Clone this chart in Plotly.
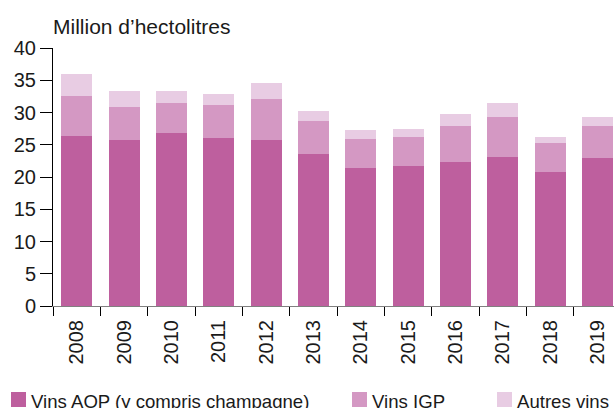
import plotly.graph_objects as go

years = ["2008", "2009", "2010", "2011", "2012", "2013",
         "2014", "2015", "2016", "2017", "2018", "2019"]

# stacked volumes, million hl
aop = [26.4, 25.8, 26.9, 26.1, 25.8, 23.6, 21.4, 21.7, 22.4, 23.1, 20.8, 23.0]
igp = [6.2, 5.1, 4.6, 5.0, 6.3, 5.1, 4.5, 4.5, 5.55, 6.2, 4.4, 4.95]
autres = [3.3, 2.5, 1.9, 1.7, 2.5, 1.6, 1.4, 1.3, 1.85, 2.1, 1.0, 1.35]

series_names = ["Vins AOP (y compris champagne)", "Vins IGP", "Autres vins"]
series_colors = ["#BE5F9E", "#D498C3", "#E8CCE3"]

W, H = 614, 408
ML, MR, MT, MB = 53, 0, 48, 102
PW, PH = W - ML - MR, H - MT - MB


def px_x(px):
    return (px - ML) / PW


def px_y(py):
    return (H - MB - py) / PH


fig = go.Figure()
for name, vals, col in zip(series_names, [aop, igp, autres], series_colors):
    fig.add_trace(go.Bar(x=years, y=vals, name=name, marker_color=col,
                         marker_line_width=0, showlegend=False))

# legend drawn by hand so it can sit half off the bottom edge
leg_sq = [11, 352, 497]
for name, col, x0 in zip(series_names, series_colors, leg_sq):
    fig.add_shape(type="rect", xref="paper", yref="paper",
                  x0=px_x(x0), x1=px_x(x0 + 15), y0=px_y(407), y1=px_y(392),
                  fillcolor=col, line_width=0)
    fig.add_annotation(text=name, xref="paper", yref="paper",
                       x=px_x(x0 + 18), y=px_y(401), xanchor="left", yanchor="middle",
                       showarrow=False, font=dict(size=18.6, color="#1a1a1a"))

fig.add_annotation(text="Million d\u2019hectolitres", xref="paper", yref="paper",
                   x=px_x(51), y=px_y(26), xanchor="left", yanchor="middle",
                   showarrow=False, font=dict(size=21, color="#1a1a1a"))

fig.update_layout(
    barmode="stack",
    bargap=0.345,
    width=W, height=H,
    margin=dict(l=ML, r=MR, t=MT, b=MB),
    paper_bgcolor="white",
    plot_bgcolor="white",
    font=dict(family="Liberation Sans, Arial, sans-serif", color="#1a1a1a"),
    xaxis=dict(type="category", range=[-0.5, 11.35], tickangle=-90,
               tickson="boundaries", ticks="outside", ticklen=9, tickcolor="black",
               showline=True, linecolor="#808080", showgrid=False,
               ticklabelstandoff=5, tickfont=dict(size=20)),
    yaxis=dict(range=[0, 40], dtick=5, ticks="outside", ticklen=12,
               tickcolor="black", showline=True, linecolor="black",
               showgrid=False, zeroline=False, tickfont=dict(size=20)),
)

# page has a default 8px body margin; drop it so the figure fills the window
fig.write_html("out.html", config={"displayModeBar": False},
               post_script="document.body.style.margin='0';document.body.style.overflow='hidden';")
